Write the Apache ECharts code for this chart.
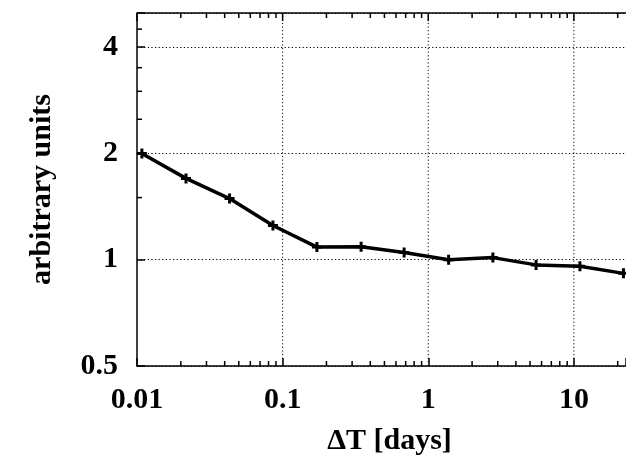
<!DOCTYPE html>
<html>
<head>
<meta charset="utf-8">
<script src="https://cdn.jsdelivr.net/npm/echarts@6/dist/echarts.min.js"></script>
<style>
html,body{margin:0;padding:0;background:#fff;}
#c{width:626px;height:459px;}
</style>
</head>
<body>
<div id="c"></div>
<script>
// Data
const deltaT = [0.0108, 0.0217, 0.0432, 0.0858, 0.172, 0.346, 0.683, 1.38, 2.78, 5.50, 11.0, 21.9];
const values = [2.00, 1.70, 1.49, 1.25, 1.086, 1.089, 1.048, 1.00, 1.014, 0.967, 0.959, 0.915];
const xTickLabels = ['0.01', '0.1', '1', '10'];
const yTickLabels = ['0.5', '1', '2', '4'];
const xMinorTicks = [0.02,0.03,0.04,0.05,0.06,0.07,0.08,0.09,0.2,0.3,0.4,0.5,0.6,0.7,0.8,0.9,2,3,4,5,6,7,8,9,20];
const yMinorTicks = [1.5, 2.5, 3, 3.5, 4.5];
const xMin = 0.01, xMax = 22.8, yMin = 0.5, yMax = 5;

const font = '"Liberation Serif", "Times New Roman", serif';
const chart = echarts.init(document.getElementById('c'));

function matchLabel(v, labels) {
  for (const l of labels) {
    if (Math.abs(v - parseFloat(l)) / parseFloat(l) < 1e-6) return l;
  }
  return '';
}

const plus = 'path://M3.5,0H6.5V3.5H10V6.5H6.5V10H3.5V6.5H0V3.5H3.5Z';
const dotted = [1.2, 2.4];

chart.setOption({
  animation: false,
  backgroundColor: '#fff',
  grid: {left: 137, top: 13, bottom: 93, right: 0, containLabel: false, outerBoundsMode: 'none'},
  xAxis: {
    type: 'log', logBase: 10, min: xMin, max: xMax,
    name: 'ΔT [days]', nameLocation: 'middle', nameGap: 60,
    nameTextStyle: {fontFamily: font, fontWeight: 'bold', fontSize: 30, color: '#000', padding: [0, 0, 0, 16]},
    axisLine: {show: true, onZero: false, lineStyle: {color: '#000', width: 1.5}},
    axisTick: {show: true, inside: true, length: 8, lineStyle: {color: '#000', width: 1.5},
      interval: function (i, v) { return matchLabel(parseFloat(v), xTickLabels) !== ''; }},
    axisLabel: {margin: 19, fontFamily: font, fontWeight: 'bold', fontSize: 30, color: '#000',
      formatter: v => matchLabel(v, xTickLabels)},
    splitLine: {show: false},
    minorTick: {show: false}
  },
  yAxis: {
    type: 'log', logBase: 2, min: yMin, max: yMax, splitNumber: 4,
    name: 'arbitrary units', nameLocation: 'middle', nameGap: 80, nameRotate: 90,
    nameTextStyle: {fontFamily: font, fontWeight: 'bold', fontSize: 30, color: '#000'},
    axisLine: {show: true, onZero: false, lineStyle: {color: '#000', width: 1.5}},
    axisTick: {show: true, inside: true, length: 8, lineStyle: {color: '#000', width: 1.5}},
    axisLabel: {margin: 19, fontFamily: font, fontWeight: 'bold', fontSize: 30, color: '#000',
      formatter: v => matchLabel(v, yTickLabels)},
    splitLine: {show: true, lineStyle: {color: '#000', type: dotted, width: 1}}
  },
  series: [
    {
      // vertical dotted grid lines at major x ticks
      type: 'custom', silent: true, z: 1,
      data: xTickLabels.slice(1).map(l => [parseFloat(l), yMin]),
      renderItem: function (params, api) {
        const b = api.coord([api.value(0), yMin]);
        const t = api.coord([api.value(0), yMax]);
        return {type: 'line', shape: {x1: b[0], y1: b[1], x2: t[0], y2: t[1]},
          style: {stroke: '#000', lineWidth: 1, lineDash: dotted}};
      }
    },
    {
      type: 'custom', silent: true, z: 5,
      data: xMinorTicks.map(v => [v, yMin]),
      renderItem: function (params, api) {
        const v = api.value(0);
        const b = api.coord([v, yMin]);
        const t = api.coord([v, yMax]);
        return {type: 'group', children: [
          {type: 'line', shape: {x1: b[0], y1: b[1], x2: b[0], y2: b[1] - 5}, style: {stroke: '#000', lineWidth: 1.5}},
          {type: 'line', shape: {x1: t[0], y1: t[1], x2: t[0], y2: t[1] + 5}, style: {stroke: '#000', lineWidth: 1.5}}
        ]};
      }
    },
    {
      type: 'custom', silent: true, z: 5,
      data: xTickLabels.map(l => [parseFloat(l), yMax]),
      renderItem: function (params, api) {
        const t = api.coord([api.value(0), yMax]);
        return {type: 'line', shape: {x1: t[0], y1: t[1], x2: t[0], y2: t[1] + 8}, style: {stroke: '#000', lineWidth: 1.5}};
      }
    },
    {
      type: 'custom', silent: true, z: 5,
      data: yMinorTicks.map(v => [xMin, v]),
      renderItem: function (params, api) {
        const p = api.coord([xMin, api.value(1)]);
        return {type: 'line', shape: {x1: p[0], y1: p[1], x2: p[0] + 5, y2: p[1]}, style: {stroke: '#000', lineWidth: 1.5}};
      }
    },
    {
      type: 'custom', silent: true, z: 5,
      data: [[xMin, yMax]],
      renderItem: function (params, api) {
        const a = api.coord([xMin, yMax]);
        const b = api.coord([xMax, yMax]);
        return {type: 'line', shape: {x1: a[0], y1: a[1], x2: b[0] + 2, y2: b[1]}, style: {stroke: '#000', lineWidth: 1.5}};
      }
    },
    {
      type: 'line', z: 10,
      data: deltaT.map((x, i) => [x, values[i]]),
      symbol: plus, symbolSize: 10, showSymbol: true,
      itemStyle: {color: '#000'},
      lineStyle: {color: '#000', width: 3.5}
    }
  ]
});
</script>
</body>
</html>
